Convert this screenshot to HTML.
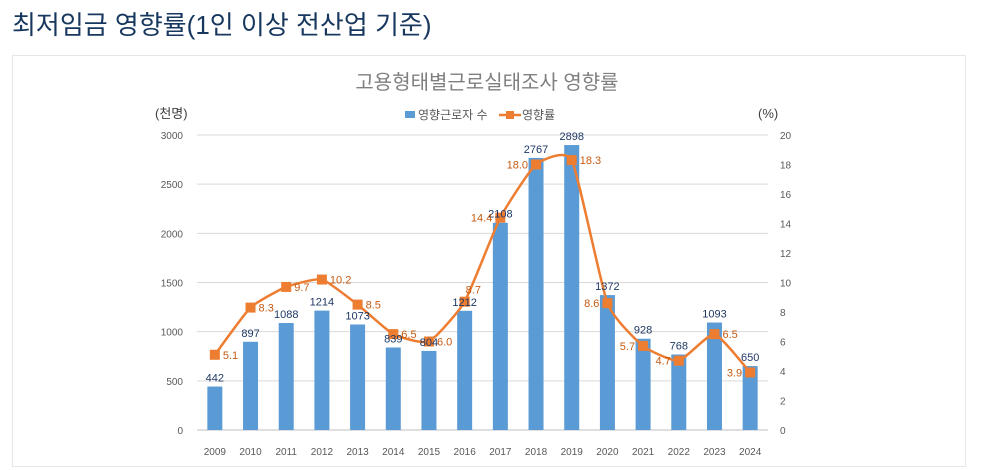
<!DOCTYPE html>
<html><head><meta charset="utf-8">
<style>
body{margin:0;width:987px;height:470px;background:#fff;overflow:hidden;font-family:"Liberation Sans","Noto Sans CJK KR",sans-serif;}
#h{position:absolute;left:12px;top:5px;font-size:26px;color:#17375e;font-family:"Liberation Sans","Noto Sans CJK KR",sans-serif;}
#box{position:absolute;left:12px;top:55px;width:952px;height:410px;border:1px solid #e6e6e6;}
svg{position:absolute;left:0;top:0}
text{font-family:"Liberation Sans","Noto Sans CJK KR",sans-serif}
</style></head><body>
<div id="h">최저임금 영향률(1인 이상 전산업 기준)</div>
<div id="box"></div>
<svg id="c" width="987" height="470"></svg>
<script>
const years=['2009','2010','2011','2012','2013','2014','2015','2016','2017','2018','2019','2020','2021','2022','2023','2024'];
const workers=[442,897,1088,1214,1073,839,804,1212,2108,2767,2898,1372,928,768,1093,650];
const rates=[5.1,8.3,9.7,10.2,8.5,6.5,6.0,8.7,14.4,18.0,18.3,8.6,5.7,4.7,6.5,3.9];
const leftTicks=[0,500,1000,1500,2000,2500,3000];
const rightTicks=[0,2,4,6,8,10,12,14,16,18,20];
const rateLabelSide=['R','R','R','R','R','R','R','U','L','L','R','L','L','L','R','L'];

const svg=document.getElementById('c');const NS='http://www.w3.org/2000/svg';
const X0=197,X1=768,Y0=430,Y1=135;
const band=(X1-X0)/years.length;
const xc=i=>X0+band*(i+0.5);
const yl=v=>Y0-(v/3000)*(Y0-Y1);
const yr=v=>Y0-(v/20)*(Y0-Y1);
function el(t,a,txt){const e=document.createElementNS(NS,t);for(const k in a)e.setAttribute(k,a[k]);if(txt!==undefined)e.textContent=txt;svg.appendChild(e);return e;}
let e;
e=el('text',{x:487,y:89,'text-anchor':'middle','font-size':20,fill:'#7f7f7f'},'고용형태별근로실태조사 영향률');


e=el('text',{x:155,y:118,'font-size':13,fill:'#404040'},'(천명)');


e=el('text',{x:758,y:118,'font-size':13,fill:'#404040'},'(%)');


leftTicks.forEach(t=>{
 e=el('line',{x1:X0,x2:X1,y1:yl(t),y2:yl(t),stroke:t===0?'#bfbfbf':'#d9d9d9','stroke-width':1});
 
 
 e=el('text',{x:183,y:yl(t)+4,'text-anchor':'end','font-size':10,fill:'#595959'},t);
 
 
});
rightTicks.forEach(t=>{
 e=el('text',{x:780,y:yr(t)+4,'text-anchor':'start','font-size':10,fill:'#595959'},t);
 
 
});
years.forEach((y,i)=>{
 e=el('text',{x:xc(i),y:455,'text-anchor':'middle','font-size':10,fill:'#595959'},y);
 
 
});
const bw=15;
workers.forEach((v,i)=>{
 e=el('rect',{x:xc(i)-bw/2,y:yl(v),width:bw,height:Y0-yl(v),fill:'#5b9bd5'});
 
 
});
const pts=rates.map((v,i)=>[xc(i),yr(v)]);
let d='M'+pts[0][0]+','+pts[0][1];
for(let i=0;i<pts.length-1;i++){const p0=pts[Math.max(0,i-1)],p1=pts[i],p2=pts[i+1],p3=pts[Math.min(pts.length-1,i+2)];const t=1/12;
 d+=` C${p1[0]+(p2[0]-p0[0])*t},${p1[1]+(p2[1]-p0[1])*t} ${p2[0]-(p3[0]-p1[0])*t},${p2[1]-(p3[1]-p1[1])*t} ${p2[0]},${p2[1]}`;}
e=el('path',{d:d,fill:'none',stroke:'#ed7d31','stroke-width':2.5});


pts.forEach((p,i)=>{
 e=el('rect',{x:p[0]-5,y:p[1]-5,width:10,height:10,fill:'#ed7d31'});
 
 
});
workers.forEach((v,i)=>{
 e=el('text',{x:xc(i),y:yl(v)-5,'text-anchor':'middle','font-size':11,fill:'#1f3864'},v);
 
 
});
rates.forEach((v,i)=>{
 const s=rateLabelSide[i];
 let a;
 if(s==='L')a={x:xc(i)-8,y:yr(v)+4,'text-anchor':'end'};
 else if(s==='U')a={x:xc(i)+1,y:yr(v)-8,'text-anchor':'start'};
 else a={x:xc(i)+8,y:yr(v)+4,'text-anchor':'start'};
 a['font-size']=11;a.fill='#c55a11';
 e=el('text',a,v.toFixed(1));
 
 
});
e=el('rect',{x:405,y:111,width:10,height:7,fill:'#5b9bd5'});


e=el('text',{x:418,y:119,'font-size':12,fill:'#595959'},'영향근로자 수');


e=el('line',{x1:499,x2:521,y1:115,y2:115,stroke:'#ed7d31','stroke-width':2.5});


e=el('rect',{x:506,y:111,width:8,height:8,fill:'#ed7d31'});


e=el('text',{x:522,y:119,'font-size':12,fill:'#595959'},'영향률');


</script>
</body></html>
